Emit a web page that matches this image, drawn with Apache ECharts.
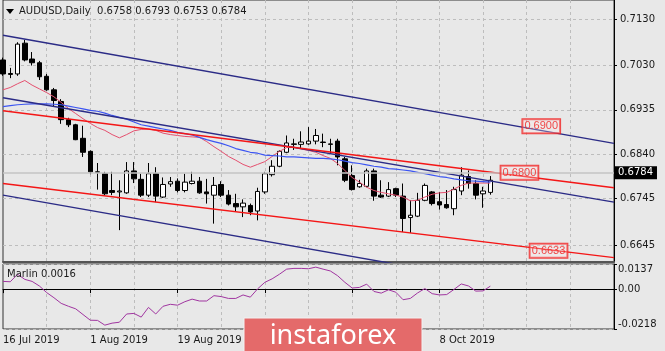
<!DOCTYPE html>
<html>
<head>
<meta charset="utf-8">
<script src="https://cdn.jsdelivr.net/npm/echarts@6/dist/echarts.min.js"></script>
<style>
  html, body { margin: 0; padding: 0; background: #e8e8e8; }
  #chart { width: 665px; height: 351px; }
</style>
</head>
<body>
<div id="chart"></div>
<script>
// trading days, the last ones are the empty space on the right
const dates = [
  '16 Jul 2019', '17 Jul 2019', '18 Jul 2019', '19 Jul 2019', '22 Jul 2019', '23 Jul 2019', '24 Jul 2019', '25 Jul 2019',
  '26 Jul 2019', '29 Jul 2019', '30 Jul 2019', '31 Jul 2019',
  '1 Aug 2019', '2 Aug 2019', '5 Aug 2019', '6 Aug 2019', '7 Aug 2019', '8 Aug 2019', '9 Aug 2019', '12 Aug 2019',
  '13 Aug 2019', '14 Aug 2019', '15 Aug 2019', '16 Aug 2019', '19 Aug 2019', '20 Aug 2019', '21 Aug 2019', '22 Aug 2019',
  '23 Aug 2019', '26 Aug 2019', '27 Aug 2019', '28 Aug 2019', '29 Aug 2019', '30 Aug 2019',
  '2 Sep 2019', '3 Sep 2019', '4 Sep 2019', '5 Sep 2019', '6 Sep 2019', '9 Sep 2019', '10 Sep 2019', '11 Sep 2019',
  '12 Sep 2019', '13 Sep 2019', '16 Sep 2019', '17 Sep 2019', '18 Sep 2019', '19 Sep 2019', '20 Sep 2019', '23 Sep 2019',
  '24 Sep 2019', '25 Sep 2019', '26 Sep 2019', '27 Sep 2019', '30 Sep 2019',
  '1 Oct 2019', '2 Oct 2019', '3 Oct 2019', '4 Oct 2019', '7 Oct 2019', '8 Oct 2019', '9 Oct 2019', '10 Oct 2019',
  '11 Oct 2019', '14 Oct 2019', '15 Oct 2019', '16 Oct 2019', '17 Oct 2019', '18 Oct 2019', '21 Oct 2019', '22 Oct 2019',
  '23 Oct 2019', '24 Oct 2019', '25 Oct 2019', '28 Oct 2019', '29 Oct 2019', '30 Oct 2019', '31 Oct 2019',
  '1 Nov 2019', '4 Nov 2019', '5 Nov 2019', '6 Nov 2019', '7 Nov 2019', '8 Nov 2019', '11 Nov 2019'
];

// [open, close, low, high]
const candles = [
  [0.7042, 0.7012, 0.7008, 0.7047], [0.7013, 0.7011, 0.7003, 0.7025], [0.7012, 0.7076, 0.7008, 0.7080],
  [0.7078, 0.7042, 0.7039, 0.7085], [0.7044, 0.7036, 0.7030, 0.7059], [0.7036, 0.7006, 0.6999, 0.7040],
  [0.7007, 0.6978, 0.6976, 0.7012], [0.6978, 0.6955, 0.6943, 0.6982], [0.6953, 0.6914, 0.6905, 0.6958],
  [0.6914, 0.6903, 0.6898, 0.6918], [0.6903, 0.6871, 0.6870, 0.6905], [0.6874, 0.6844, 0.6834, 0.6901],
  [0.6846, 0.6802, 0.6797, 0.6848], [0.6802, 0.6801, 0.6764, 0.6821], [0.6798, 0.6755, 0.6752, 0.6802],
  [0.6762, 0.6758, 0.6752, 0.6802], [0.6759, 0.6761, 0.6677, 0.6784], [0.6757, 0.6804, 0.6755, 0.6823],
  [0.6804, 0.6787, 0.6778, 0.6823], [0.6786, 0.6752, 0.6748, 0.6798], [0.6752, 0.6798, 0.6748, 0.6821],
  [0.6798, 0.6750, 0.6737, 0.6812], [0.6748, 0.6775, 0.6746, 0.6790], [0.6776, 0.6781, 0.6770, 0.6791],
  [0.6782, 0.6762, 0.6758, 0.6788], [0.6762, 0.6780, 0.6758, 0.6798], [0.6777, 0.6782, 0.6775, 0.6802],
  [0.6782, 0.6757, 0.6755, 0.6791], [0.6759, 0.6755, 0.6734, 0.6787], [0.6752, 0.6773, 0.6691, 0.6791],
  [0.6775, 0.6752, 0.6748, 0.6782], [0.6752, 0.6733, 0.6730, 0.6763], [0.6734, 0.6727, 0.6716, 0.6755],
  [0.6727, 0.6735, 0.6705, 0.6743], [0.6730, 0.6716, 0.6709, 0.6734], [0.6718, 0.6760, 0.6698, 0.6768],
  [0.6759, 0.6798, 0.6755, 0.6802], [0.6796, 0.6814, 0.6792, 0.6827], [0.6814, 0.6846, 0.6812, 0.6848],
  [0.6844, 0.6864, 0.6842, 0.6880], [0.6862, 0.6861, 0.6849, 0.6873], [0.6861, 0.6866, 0.6852, 0.6889],
  [0.6862, 0.6868, 0.6860, 0.6898], [0.6868, 0.6880, 0.6861, 0.6894], [0.6866, 0.6865, 0.6855, 0.6884],
  [0.6862, 0.6861, 0.6841, 0.6873], [0.6868, 0.6834, 0.6816, 0.6873], [0.6830, 0.6784, 0.6780, 0.6834],
  [0.6794, 0.6764, 0.6762, 0.6816], [0.6770, 0.6777, 0.6768, 0.6785], [0.6771, 0.6804, 0.6769, 0.6809],
  [0.6804, 0.6750, 0.6740, 0.6809], [0.6752, 0.6748, 0.6746, 0.6784], [0.6750, 0.6764, 0.6748, 0.6780],
  [0.6766, 0.6752, 0.6748, 0.6768], [0.6750, 0.6702, 0.6673, 0.6777], [0.6704, 0.6709, 0.6671, 0.6741],
  [0.6707, 0.6741, 0.6705, 0.6757], [0.6741, 0.6773, 0.6739, 0.6777], [0.6759, 0.6734, 0.6730, 0.6761],
  [0.6738, 0.6731, 0.6721, 0.6759], [0.6732, 0.6725, 0.6723, 0.6763], [0.6723, 0.6764, 0.6709, 0.6770],
  [0.6761, 0.6795, 0.6752, 0.6812], [0.6792, 0.6777, 0.6766, 0.6805], [0.6777, 0.6752, 0.6743, 0.6784],
  [0.6755, 0.6761, 0.6725, 0.6770], [0.6758, 0.6784, 0.6753, 0.6793]
];

const maFast = [
  0.6978, 0.6983, 0.6991, 0.6998, 0.6988, 0.6980, 0.6972, 0.6963, 0.6951, 0.6938,
  0.6927, 0.6916, 0.6906, 0.6897, 0.6891, 0.6882, 0.6875, 0.6882, 0.6890, 0.6893,
  0.6894, 0.6891, 0.6885, 0.6882, 0.6880, 0.6878, 0.6877, 0.6876, 0.6867, 0.6856,
  0.6846, 0.6835, 0.6827, 0.6818, 0.6812, 0.6818, 0.6824, 0.6835, 0.6846, 0.6854,
  0.6855, 0.6851, 0.6848, 0.6844, 0.6837, 0.6831, 0.6820, 0.6805, 0.6790, 0.6780,
  0.6769, 0.6762, 0.6758, 0.6755, 0.6752, 0.6748, 0.6740, 0.6741, 0.6748, 0.6754,
  0.6757, 0.6758, 0.6765, 0.6773, 0.6778, 0.6778, 0.6778, 0.6778
];

const maSlow = [
  0.6942, 0.6944, 0.6946, 0.6947, 0.6948, 0.6948, 0.6948, 0.6947, 0.6946, 0.6943,
  0.6940, 0.6937, 0.6934, 0.6932, 0.6928, 0.6923, 0.6919, 0.6915, 0.6909, 0.6903,
  0.6900, 0.6897, 0.6894, 0.6891, 0.6887, 0.6884, 0.6881, 0.6876, 0.6871, 0.6867,
  0.6863, 0.6858, 0.6852, 0.6848, 0.6844, 0.6842, 0.6838, 0.6837, 0.6836, 0.6834,
  0.6834, 0.6833, 0.6832, 0.6831, 0.6831, 0.6830, 0.6828, 0.6825, 0.6822, 0.6820,
  0.6817, 0.6814, 0.6812, 0.6809, 0.6808, 0.6806, 0.6804, 0.6801, 0.6798, 0.6795,
  0.6792, 0.6790, 0.6787, 0.6785, 0.6783, 0.6782, 0.6781, 0.6780
];

const marlin = [
  0.0042, 0.0040, 0.0081, 0.0053, 0.0042, 0.0017, -0.0019, -0.0047, -0.0078, -0.0094,
  -0.0108, -0.0139, -0.0170, -0.0171, -0.0197, -0.0186, -0.0181, -0.0136, -0.0133, -0.0153,
  -0.0100, -0.0136, -0.0094, -0.0083, -0.0088, -0.0069, -0.0055, -0.0065, -0.0065, -0.0036,
  -0.0041, -0.0051, -0.0051, -0.0032, -0.0044, 0.0001, 0.0037, 0.0056, 0.0081, 0.0109,
  0.0113, 0.0113, 0.0111, 0.0120, 0.0109, 0.0099, 0.0073, 0.0037, 0.0006, 0.0009,
  0.0027, -0.0013, -0.0022, -0.0004, -0.0017, -0.0058, -0.0051, -0.0021, 0.0003, -0.0025,
  -0.0032, -0.0030, -0.0002, 0.0028, 0.0017, -0.0011, -0.0010, 0.0016
];

const priceTicks = [0.6645, 0.6745, 0.6840, 0.6935, 0.7030, 0.7130];
const marlinTicks = [-0.0218, 0, 0.0137];

// hand drawn channel lines: [bar, price] at both ends
const channelTop = [[0, 0.7095], [84, 0.6863]];
const channelMid = [[0, 0.6961], [84, 0.6737]];
const channelLow = [[0, 0.6752], [84, 0.6522]];
const redTop = [[0, 0.6933], [84, 0.6768]];
const redLow = [[0, 0.6777], [84, 0.6618]];

// [bar, price] of the red level tags
const levelTags = [[74, 0.6900], [71, 0.6800], [75, 0.6633]];

const lastClose = candles[candles.length - 1][1];

const font = 'DejaVu Sans';
const gridDash = { color: '#bdbdbd', type: [3, 3], width: 1 };

function everySixth(index) {
  return index % 6 === 0 && index > 0 && index < dates.length - 1;
}

function labelBars(index) {
  return index % 12 === 0 && index <= 60;
}

function trendLine(data, color) {
  return {
    type: 'line',
    xAxisIndex: 0,
    yAxisIndex: 0,
    data: data,
    symbol: 'none',
    silent: true,
    z: 4,
    lineStyle: { color: color, width: 1.4 },
  };
}

const chart = echarts.init(document.getElementById('chart'));

chart.setOption({
  animation: false,
  backgroundColor: '#e8e8e8',
  textStyle: { fontFamily: font },
  title: [
    {
      text: 'AUDUSD,Daily  0.6758 0.6793 0.6753 0.6784',
      left: 19,
      top: 6,
      padding: 0,
      textStyle: { fontSize: 10, fontWeight: 'normal', color: '#1a1a1a', fontFamily: font },
    },
    {
      text: 'Marlin 0.0016',
      left: 7,
      top: 269,
      padding: 0,
      textStyle: { fontSize: 10, fontWeight: 'normal', color: '#1a1a1a', fontFamily: font },
    },
  ],
  grid: [
    { left: 3, right: 51, top: -1, height: 263, show: true, borderColor: '#333', borderWidth: 1 },
    { left: 3, right: 51, top: 264, height: 65, show: true, borderColor: '#333', borderWidth: 1 },
  ],
  xAxis: [
    {
      type: 'category',
      gridIndex: 0,
      data: dates,
      boundaryGap: false,
      axisLine: { show: true, lineStyle: { color: '#555', width: 2 } },
      axisTick: { show: false },
      axisLabel: { show: false },
      splitLine: { show: true, interval: everySixth, lineStyle: gridDash },
    },
    {
      type: 'category',
      gridIndex: 1,
      data: dates,
      boundaryGap: false,
      axisLine: { show: true, lineStyle: { color: '#000' } },
      axisTick: { show: true, interval: labelBars, length: 4, lineStyle: { color: '#000' } },
      axisLabel: {
        show: true,
        interval: labelBars,
        align: 'left',
        margin: 6,
        fontSize: 10,
        color: '#1a1a1a',
        fontFamily: font,
      },
      splitLine: { show: true, interval: everySixth, lineStyle: gridDash },
    },
  ],
  yAxis: [
    {
      type: 'value',
      gridIndex: 0,
      position: 'right',
      min: 0.66087,
      max: 0.71706,
      axisLine: { show: true, lineStyle: { color: '#000' } },
      axisTick: { show: true, customValues: priceTicks, length: 3, lineStyle: { color: '#000' } },
      axisLabel: {
        customValues: priceTicks,
        formatter: (value) => value.toFixed(4),
        margin: 6,
        fontSize: 10,
        color: '#1a1a1a',
        fontFamily: font,
      },
      splitLine: { show: true, lineStyle: gridDash },
    },
    {
      type: 'value',
      gridIndex: 1,
      position: 'right',
      min: -0.0218,
      max: 0.0137,
      axisLine: { show: true, lineStyle: { color: '#000' } },
      axisTick: { show: true, customValues: marlinTicks, length: 3, lineStyle: { color: '#000' } },
      axisLabel: {
        customValues: marlinTicks,
        formatter: (value) => (value === 0 ? '0.00' : value.toFixed(4)),
        margin: 4,
        fontSize: 10,
        color: '#1a1a1a',
        fontFamily: font,
        verticalAlignMaxLabel: 'top',
        verticalAlignMinLabel: 'bottom',
      },
      splitLine: { show: true, lineStyle: gridDash },
    },
  ],
  series: [
    {
      type: 'candlestick',
      xAxisIndex: 0,
      yAxisIndex: 0,
      data: candles,
      barWidth: 5,
      z: 3,
      itemStyle: {
        color: '#ffffff',
        color0: '#000000',
        borderColor: '#000000',
        borderColor0: '#000000',
        borderColorDoji: '#000000',
        borderWidth: 1,
      },
      markLine: {
        silent: true,
        symbol: 'none',
        lineStyle: { color: '#c4c4c4', width: 1.5, type: 'solid' },
        label: {
          show: true,
          position: 'end',
          distance: 1,
          formatter: lastClose.toFixed(4),
          backgroundColor: '#000',
          color: '#fff',
          padding: [2, 4, 1, 3],
          fontSize: 10,
          fontFamily: font,
        },
        data: [{ yAxis: lastClose }],
      },
    },
    {
      type: 'line',
      xAxisIndex: 0,
      yAxisIndex: 0,
      data: maFast,
      symbol: 'none',
      z: 4,
      lineStyle: { color: '#e5506f', width: 1 },
    },
    {
      type: 'line',
      xAxisIndex: 0,
      yAxisIndex: 0,
      data: maSlow,
      symbol: 'none',
      z: 4,
      lineStyle: { color: '#3c55f2', width: 1.2 },
    },
    trendLine(channelTop, '#2b2b86'),
    trendLine(channelMid, '#2b2b86'),
    trendLine(channelLow, '#2b2b86'),
    trendLine(redTop, '#f41616'),
    trendLine(redLow, '#f41616'),
    {
      type: 'scatter',
      xAxisIndex: 0,
      yAxisIndex: 0,
      data: levelTags,
      symbolSize: 1,
      z: 6,
      itemStyle: { color: 'rgba(0,0,0,0)' },
      label: {
        show: true,
        position: 'inside',
        formatter: (params) => params.value[1].toFixed(4),
        color: '#f01c1c',
        fontSize: 11,
        fontFamily: 'Liberation Sans',
        borderColor: '#f01c1c',
        borderWidth: 1,
        padding: [2, 2, 1, 2],
        backgroundColor: 'rgba(255,235,235,0.35)',
      },
    },
    {
      type: 'line',
      xAxisIndex: 1,
      yAxisIndex: 1,
      data: marlin,
      symbol: 'none',
      lineStyle: { color: '#a035a0', width: 1 },
    },
  ],
  graphic: [
    {
      type: 'polygon',
      shape: { points: [[6, 9], [14, 9], [10, 14]] },
      style: { fill: '#000' },
    },
    {
      type: 'rect',
      z: 100,
      zlevel: 1,
      shape: { x: 244, y: 318, width: 178, height: 35 },
      style: { fill: '#e46a6a', stroke: '#f2f2f2', lineWidth: 1 },
    },
    {
      type: 'text',
      z: 101,
      zlevel: 1,
      x: 333,
      y: 336,
      style: {
        text: 'instaforex',
        fill: '#ffffff',
        font: '27px "Noto Sans"',
        align: 'center',
        verticalAlign: 'middle',
      },
    },
  ],
});
</script>
</body>
</html>
